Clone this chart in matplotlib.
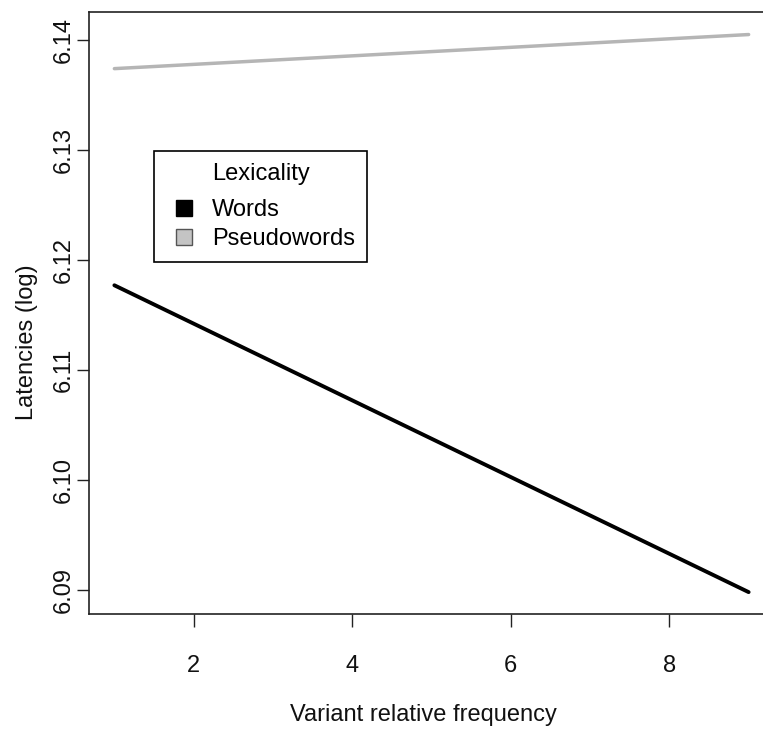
import matplotlib
matplotlib.use("Agg")
import matplotlib.pyplot as plt
from matplotlib.lines import Line2D

plt.rcParams['font.family'] = ['Liberation Sans', 'DejaVu Sans']

# Data
variant_freq = [1, 9]
words = [6.1177, 6.0898]
pseudowords = [6.1374, 6.1405]
series_names = ["Words", "Pseudowords"]
legend_title = "Lexicality"
xticks = [2, 4, 6, 8]
yticks = [6.09, 6.10, 6.11, 6.12, 6.13, 6.14]

W, H = 763, 729
fig = plt.figure(figsize=(W / 100, H / 100), dpi=100)
left, right, top, bottom = 89, 774, 12, 614
ax = fig.add_axes([left / W, 1 - bottom / H, (right - left) / W, (bottom - top) / H])

ax.plot(variant_freq, words, color="black", lw=2.8, solid_capstyle="round")
ax.plot(variant_freq, pseudowords, color="#b5b5b5", lw=2.5, solid_capstyle="round")

ax.set_xlim(0.68, 9.32)
ax.set_ylim(6.08781, 6.14255)
ax.set_xticks(xticks)
ax.set_xticklabels([str(v) for v in xticks])
ax.set_yticks(yticks)
ax.set_yticklabels([f"{v:.2f}" for v in yticks])

for s in ax.spines.values():
    s.set_color("#222222")
    s.set_linewidth(1.2)
ax.spines["right"].set_visible(False)

ax.tick_params(axis="both", direction="out", length=9, width=1.0, color="#222222",
               labelsize=17, labelcolor="#111111")
ax.tick_params(axis="x", pad=20.5)
ax.tick_params(axis="y", pad=1.2, labelrotation=90)
for lab in ax.get_yticklabels():
    lab.set_va("center")

ax.set_xlabel("Variant relative frequency", fontsize=17, color="#111111")
ax.xaxis.set_label_coords(0.488, -0.15)
ax.set_ylabel("Latencies (log)", fontsize=17, color="#111111")
ax.yaxis.set_label_coords(-0.075, 0.452)

handles = [Line2D([], [], ls="none", marker="s", markersize=11.5,
                  markerfacecolor="black", markeredgecolor="black", label=series_names[0]),
           Line2D([], [], ls="none", marker="s", markersize=11,
                  markerfacecolor="#c4c4c4", markeredgecolor="#555555", markeredgewidth=1.0,
                  label=series_names[1])]
leg = ax.legend(handles=handles, title=legend_title, loc="upper left",
                bbox_to_anchor=(154 / W, 1 - 151 / H), bbox_transform=fig.transFigure,
                borderaxespad=0, fontsize=17, title_fontsize=17, frameon=True,
                fancybox=False, edgecolor="black", framealpha=1, numpoints=1,
                handlelength=1.52, handleheight=0.6, handletextpad=0.45,
                labelspacing=0.28, borderpad=0.5)
leg.get_frame().set_linewidth(1.2)
leg._legend_box.sep = 10.4

fig.savefig("out.png", dpi=100, facecolor="white")
